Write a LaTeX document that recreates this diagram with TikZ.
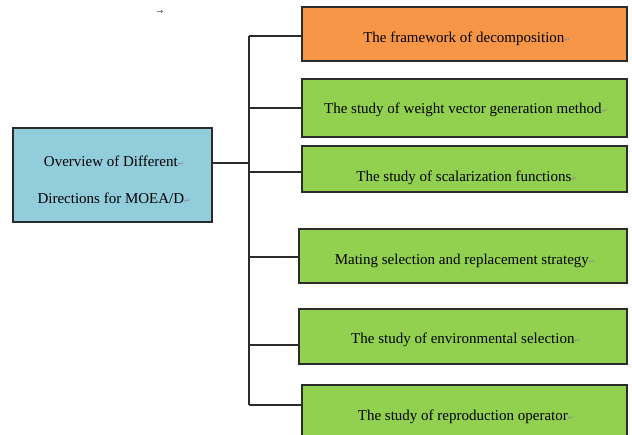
\documentclass[tikz,border=0pt]{standalone}
\usepackage{fontspec}
\setmainfont{Liberation Serif}
\newfontfamily\symfont{DejaVu Sans}
\definecolor{boxorange}{HTML}{F79646}
\definecolor{boxgreen}{HTML}{92D050}
\definecolor{boxblue}{HTML}{92CDDC}
\definecolor{edgecol}{HTML}{2B2B2B}
\newcommand{\pmark}{{\symfont\color{black!45}\fontsize{7.5}{7.5}\selectfont ↵}}
\begin{document}
\begin{tikzpicture}[x=1pt,y=-1pt,
  boxstyle/.style={draw=edgecol, line width=1.2pt, inner sep=0pt, minimum width=325pt},
  labelstyle/.style={inner sep=0pt, font=\fontsize{15}{18}\selectfont, text=black},
  linkstyle/.style={draw=edgecol, line width=1.2pt}]
\useasboundingbox (0,0) rectangle (632,435);
\clip (0,0) rectangle (632,435);
% main box
\node[boxstyle, fill=boxblue, minimum width=199pt, minimum height=94pt] (main) at (112.5,175) {};
\node[labelstyle, align=center, font=\fontsize{15}{37}\selectfont] (mainlab) at (114,179.5) {Overview of Different\pmark\\Directions for MOEA/D\pmark};
% right boxes
\node[boxstyle, fill=boxorange, minimum height=54pt] (b1) at (464.5,34) {};
\node[boxstyle, fill=boxgreen, minimum height=58pt] (b2) at (464.5,108) {};
\node[boxstyle, fill=boxgreen, minimum height=46pt] (b3) at (464.5,169) {};
\node[boxstyle, fill=boxgreen, minimum width=328pt, minimum height=54pt] (b4) at (463,256) {};
\node[boxstyle, fill=boxgreen, minimum width=328pt, minimum height=55pt] (b5) at (463,336.5) {};
\node[boxstyle, fill=boxgreen, minimum height=62pt] (b6) at (464.5,416) {};
% labels
\node[labelstyle] (l1) at (467,39) {The framework of decomposition\pmark};
\node[labelstyle] (l2) at (466,110) {The study of weight vector generation method\pmark};
\node[labelstyle] (l3) at (467,178) {The study of scalarization functions\pmark};
\node[labelstyle] (l4) at (465,261) {Mating selection and replacement strategy\pmark};
\node[labelstyle] (l5) at (466,340) {The study of environmental selection\pmark};
\node[labelstyle] (l6) at (466,417) {The study of reproduction operator\pmark};
% small arrow mark
\node[inner sep=0pt, text=black!70, font=\symfont\fontsize{8}{8}\selectfont] (arrowmark) at (160,12) {→};
% trunk coordinates
\coordinate (j0) at (249,163);
\coordinate (t1) at (249,36);
\coordinate (t2) at (249,108);
\coordinate (t3) at (249,172);
\coordinate (t4) at (249,257);
\coordinate (t5) at (249,345);
\coordinate (t6) at (249,405);
% connectors
\draw[linkstyle] (t1) -- (t6);
\draw[linkstyle] (main.east |- j0) -- (j0);
\draw[linkstyle] (t1) -- (b1.west |- t1);
\draw[linkstyle] (t2) -- (b2.west |- t2);
\draw[linkstyle] (t3) -- (b3.west |- t3);
\draw[linkstyle] (t4) -- (b4.west |- t4);
\draw[linkstyle] (t5) -- (b5.west |- t5);
\draw[linkstyle] (t6) -- (b6.west |- t6);
\end{tikzpicture}
\end{document}
